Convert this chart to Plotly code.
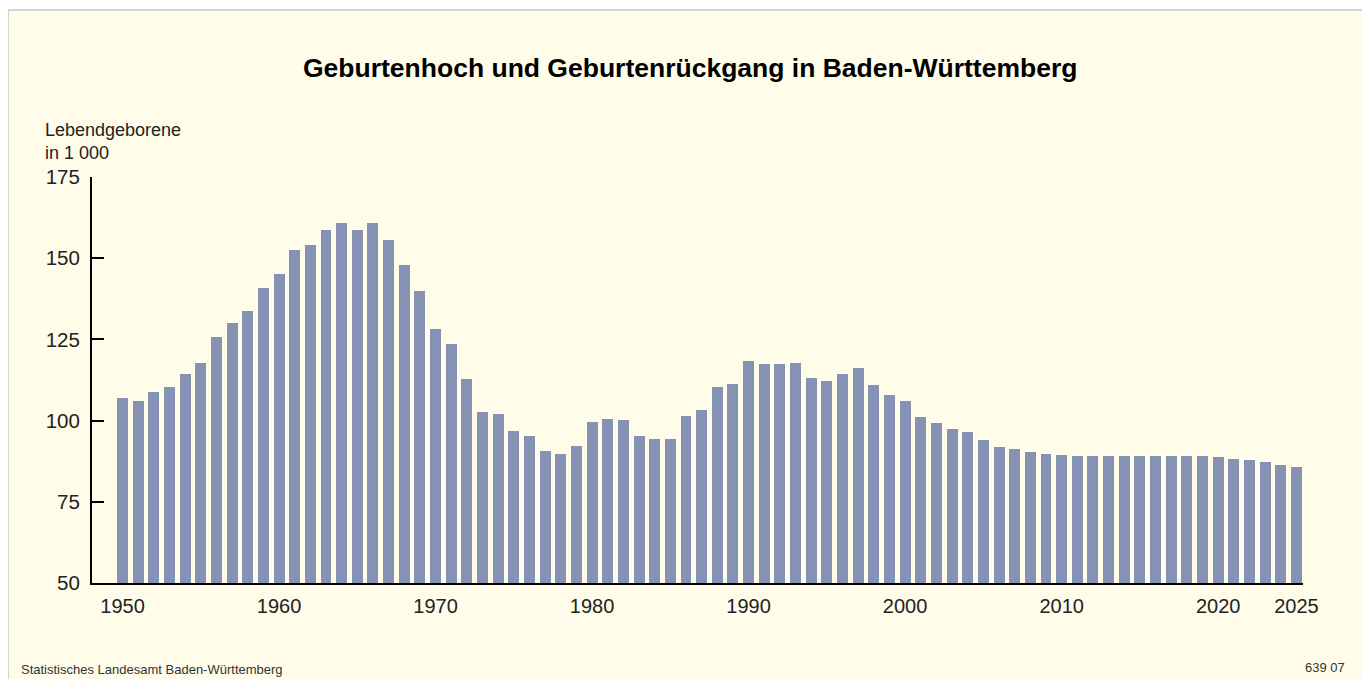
import plotly.graph_objects as go

years = list(range(1950, 2026))
births = [
    107.0, 106.1, 108.8, 110.4, 114.4, 117.7, 125.7, 130.0, 133.7, 140.8,
    145.1, 152.5, 154.0, 158.6, 160.8, 158.6, 160.8, 155.5, 147.8, 139.9,
    128.2, 123.6, 112.8, 102.6, 102.1, 96.8, 95.3, 90.7, 89.8, 92.2,
    99.6, 100.5, 100.2, 95.3, 94.4, 94.4, 101.4, 103.3, 110.4, 111.3,
    118.4, 117.5, 117.5, 117.7, 113.1, 112.2, 114.4, 116.2, 111.0, 107.9,
    106.1, 101.1, 99.3, 97.4, 96.5, 94.1, 91.9, 91.3, 90.4, 89.8,
    89.5, 89.1, 89.1, 89.1, 89.1, 89.1, 89.1, 89.1, 89.1, 89.1,
    88.8, 88.2, 87.9, 87.3, 86.4, 85.7,
]
x_ticks = [1950, 1960, 1970, 1980, 1990, 2000, 2010, 2020, 2025]
y_ticks = [50, 75, 100, 125, 150, 175]

title = "Geburtenhoch und Geburtenrückgang in Baden-Württemberg"
y_title = "Lebendgeborene<br>in 1 000"
source = "Statistisches Landesamt Baden-Württemberg"
code = "639 07"

# page body margin offsets the figure by 8px
OFF = 8
W, H = 1370 - OFF, 679 - OFF
# plot area in screen pixels
SX0, SX1, SY0, SY1 = 92, 1303, 177, 583
L, T = SX0 - OFF, SY0 - OFF
R, B = W - (SX1 - OFF), H - (SY1 - OFF)
pw, ph = SX1 - SX0, SY1 - SY0

def px(x):
    return (x - SX0) / pw

def py(y):
    return (SY1 - y) / ph

cream = "#FFFDEA"
font = "Liberation Sans, Arial, sans-serif"

fig = go.Figure()
fig.add_trace(go.Bar(
    x=years, y=births, width=0.70,
    marker=dict(color="#8592B4", line=dict(width=0)),
    hoverinfo="x+y",
))

fig.update_layout(
    width=W, height=H,
    margin=dict(l=L, r=R, t=T, b=B, pad=0),
    paper_bgcolor="white",
    plot_bgcolor="rgba(0,0,0,0)",
    showlegend=False,
    font=dict(family=font, color="#1a1a1a"),
    bargap=0,
    xaxis=dict(
        range=[1948.05, 2025.42],
        tickmode="array", tickvals=x_ticks, ticktext=[str(v) for v in x_ticks],
        showgrid=False, zeroline=False,
        showline=True, linecolor="black", linewidth=2,
        ticks="outside", ticklen=4, tickcolor="rgba(0,0,0,0)",
        tickfont=dict(size=20, family=font, color="#222222"),
    ),
    yaxis=dict(
        range=[50, 175],
        tickmode="array", tickvals=y_ticks,
        showgrid=False, zeroline=False,
        showline=True, linecolor="black", linewidth=2,
        ticks="inside", ticklen=12, tickwidth=2, tickcolor="black",
        tickfont=dict(size=20.5, family=font, color="#222222"),
        ticklabelstandoff=6,
    ),
    shapes=[dict(
        type="rect", xref="paper", yref="paper", layer="below",
        x0=px(8), x1=px(1364), y0=py(700), y1=py(10),
        fillcolor=cream, line=dict(color="#c8c8c8", width=1.5),
    )],
    annotations=[
        dict(text="<b>" + title + "</b>", xref="paper", yref="paper",
             x=px(690), y=py(68), xanchor="center", yanchor="middle",
             showarrow=False, font=dict(size=26.5, family=font, color="black")),
        dict(text=y_title, xref="paper", yref="paper",
             x=px(43), y=py(118), xanchor="left", yanchor="top", align="left",
             showarrow=False, font=dict(size=18, family=font, color="#222222")),
        dict(text=source, xref="paper", yref="paper",
             x=px(19), y=py(669), xanchor="left", yanchor="middle",
             showarrow=False, font=dict(size=13, family=font, color="#333333")),
        dict(text=code, xref="paper", yref="paper",
             x=px(1347), y=py(667), xanchor="right", yanchor="middle",
             showarrow=False, font=dict(size=13, family=font, color="#333333")),
    ],
)

fig.write_html("out.html")
